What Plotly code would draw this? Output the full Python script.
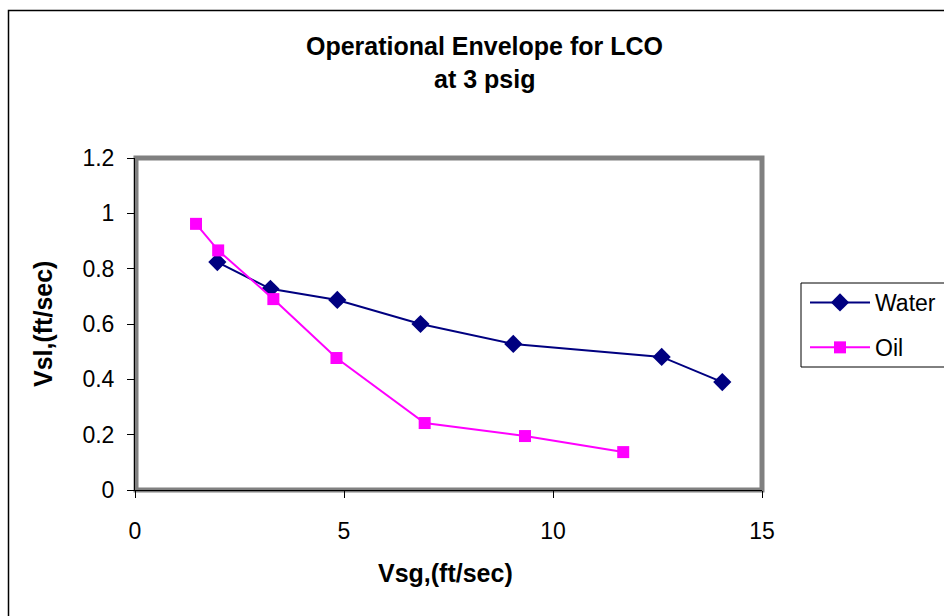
import plotly.graph_objects as go

water_x = [1.97, 3.24, 4.84, 6.83, 9.05, 12.6, 14.05]
water_y = [0.824, 0.727, 0.687, 0.600, 0.528, 0.481, 0.390]
oil_x = [1.46, 1.99, 3.31, 4.82, 6.93, 9.33, 11.68]
oil_y = [0.962, 0.866, 0.690, 0.477, 0.242, 0.195, 0.137]

x_ticks = [0, 5, 10, 15]
y_ticks = [0, 0.2, 0.4, 0.6, 0.8, 1, 1.2]
y_tick_text = ["0", "0.2", "0.4", "0.6", "0.8", "1", "1.2"]

W, H = 944, 616
L, R, T, B = 135, 762, 158, 490
pw, ph = R - L, B - T

def px(x):
    return (x - L) / pw

def py(y):
    return (B - y) / ph

FONT = "Liberation Sans, Arial, sans-serif"

fig = go.Figure()
fig.add_trace(go.Scatter(
    x=water_x, y=water_y, name="Water", mode="lines+markers", legendgroup="w",
    line=dict(color="#000080", width=2),
    marker=dict(symbol="diamond", size=14, color="#000080"),
))
fig.add_trace(go.Scatter(
    x=oil_x, y=oil_y, name="Oil", mode="lines+markers", legendgroup="o",
    line=dict(color="#FF00FF", width=2),
    marker=dict(symbol="square", size=12, color="#FF00FF"),
))

shapes = [
    dict(type="rect", xref="paper", yref="paper",
         x0=px(8.5), x1=px(960), y0=py(10.5), y1=py(630),
         line=dict(color="#000000", width=1.5), layer="below"),
    dict(type="rect", xref="paper", yref="paper",
         x0=px(L + 1), x1=px(R), y0=py(B), y1=py(T),
         line=dict(color="#808080", width=5), layer="below"),
    dict(type="rect", xref="paper", yref="paper",
         x0=px(801), x1=px(960), y0=py(367), y1=py(283),
         line=dict(color="#000000", width=1), fillcolor="white"),
]

annotations = [
    dict(text="<b>Operational Envelope for LCO</b>", xref="paper", yref="paper",
         x=px(484), y=py(46), showarrow=False, font=dict(family=FONT, size=25, color="black"),
         xanchor="center", yanchor="middle"),
    dict(text="<b>at 3 psig</b>", xref="paper", yref="paper",
         x=px(484), y=py(79), showarrow=False, font=dict(family=FONT, size=25, color="black"),
         xanchor="center", yanchor="middle"),
    dict(text="<b>Vsg,(ft/sec)</b>", xref="paper", yref="paper",
         x=px(445), y=py(573), showarrow=False, font=dict(family=FONT, size=25, color="black"),
         xanchor="center", yanchor="middle"),
    dict(text="<b>Vsl,(ft/sec)</b>", xref="paper", yref="paper", textangle=-90,
         x=px(43), y=py(324), showarrow=False, font=dict(family=FONT, size=25, color="black"),
         xanchor="center", yanchor="middle"),
]

fig.update_layout(
    width=W, height=H,
    margin=dict(l=L, r=W - R, t=T, b=H - B, pad=0, autoexpand=False),
    paper_bgcolor="white", plot_bgcolor="white",
    font=dict(family=FONT, size=23, color="black"),
    shapes=shapes, annotations=annotations,
    showlegend=True,
    legend=dict(x=px(805), y=py(281), xanchor="left", yanchor="top",
                bgcolor="rgba(0,0,0,0)", borderwidth=0,
                font=dict(family=FONT, size=23, color="black"),
                itemwidth=60, tracegroupgap=12, traceorder="grouped"),
    xaxis=dict(range=[0, 15], tickvals=x_ticks, ticktext=[str(v) for v in x_ticks],
               showgrid=False, zeroline=False, showline=True, linecolor="black", linewidth=1,
               ticks="outside", ticklen=7, tickcolor="black", ticklabelstandoff=13),
    yaxis=dict(range=[0, 1.2], tickvals=y_ticks, ticktext=y_tick_text,
               showgrid=False, zeroline=False, showline=True, linecolor="black", linewidth=1,
               ticks="outside", ticklen=7, tickcolor="black", ticklabelstandoff=8),
)

fig.write_html("out.html")
